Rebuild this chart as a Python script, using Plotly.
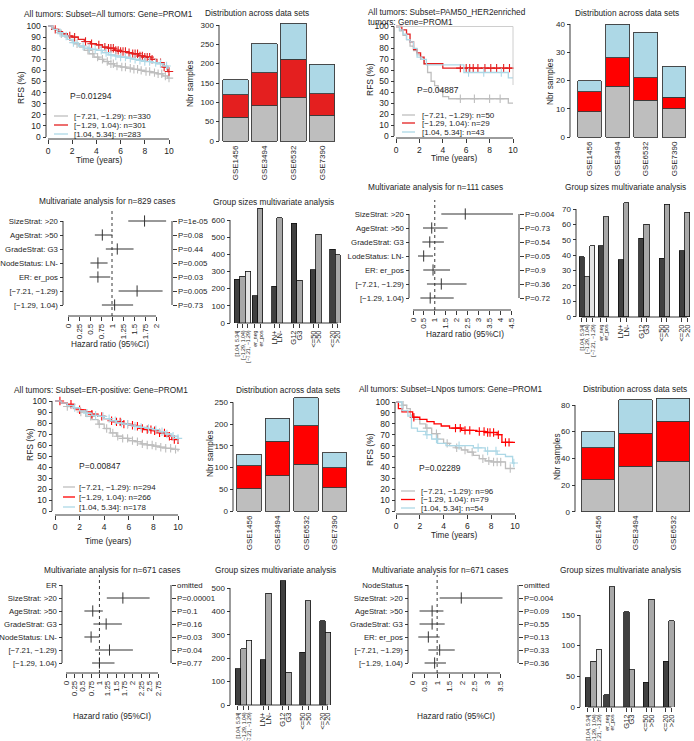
import plotly.graph_objects as go

W, H = 694, 741
FONT = "Liberation Sans, Arial, Helvetica, sans-serif"
TXT = "#1e1e1e"
GRAY, BLUE, RED, RED_TL = "#BEBEBE", "#ADD8E6", "#FF0000", "#E41F1F"
DARK, MID, LIGHT = "#404040", "#A8A8A8", "#E4E4E4"

DATASETS = ["GSE1456", "GSE3494", "GSE6532", "GSE7390"]
GROUPS = ["[−7.21, −1.29)", "[−1.29, 1.04)", "[1.04, 5.34]"]

# ---------------- A: all tumors ----------------
a_title = ["All tumors: Subset=All tumors: Gene=PROM1"]
a_p = "P=0.01294"
a_n = [330, 301, 283]
a_low_t = [0, 0.3, 0.6, 1.0, 1.4, 1.8, 2.2, 2.6, 3.0, 3.4, 3.8, 4.2, 4.6, 5.0, 5.5, 6.0, 6.5, 7.0, 7.5, 8.0, 8.5, 9.0, 9.5, 9.9, 10]
a_low_s = [100, 98, 96, 93, 90, 87, 84, 81, 78, 75, 72, 70, 68, 66, 64, 63, 62, 61, 60, 59, 58, 57, 55, 53, 53]
a_low_c = [1.1, 2.4, 3.3, 3.7, 4.1, 4.5, 4.9, 5.2, 5.4, 5.7, 6.1, 6.4, 6.8, 7.1, 7.4, 7.7, 8.1, 8.4, 8.8, 9.1, 9.4, 9.7, 10.0]
a_mid_t = [0, 0.4, 0.8, 1.2, 1.6, 2.0, 2.5, 3.0, 3.5, 4.0, 4.5, 5.0, 5.5, 6.0, 6.5, 7.0, 7.5, 8.0, 8.5, 9.0, 9.5, 9.9, 10]
a_mid_s = [100, 97, 95, 93, 91, 90, 88, 86, 84, 83, 81, 80, 78, 77, 76, 75, 73, 72, 70, 67, 63, 59, 59]
a_mid_c = [0.6, 1.8, 2.2, 3.1, 3.6, 4.2, 4.7, 5.0, 5.2, 5.4, 5.6, 5.8, 6.0, 6.2, 6.4, 6.7, 7.0, 7.2, 7.4, 7.6, 7.8, 8.0, 8.2, 8.4, 8.6, 9.3, 9.6, 10.0]
a_high_t = [0, 0.4, 0.8, 1.2, 1.6, 2.0, 2.5, 3.0, 3.5, 4.0, 4.5, 5.0, 5.5, 6.0, 6.5, 7.0, 7.5, 8.0, 8.5, 9.0, 9.5, 9.9, 10]
a_high_s = [100, 97, 94, 91, 88, 85, 82, 80, 79, 78, 76, 74, 73, 72, 71, 70, 69, 68, 67, 66, 64, 62, 62]
a_high_c = [1.0, 1.5, 2.1, 2.9, 3.4, 3.9, 4.4, 4.8, 5.2, 5.6, 6.0, 6.4, 6.8, 7.2, 7.6, 8.0, 8.4, 8.9, 9.3, 9.8]
a_ds_low = [61, 91, 112, 66]
a_ds_mid = [59, 86, 100, 56]
a_ds_high = [38, 75, 93, 77]
a_mv_title = "Multivariate analysis for n=829 cases"
a_mv_labels = ["SizeStrat: >20", "AgeStrat: >50", "GradeStrat: G3", "NodeStatus: LN-", "ER: er_pos", "[−7.21, −1.29)", "[−1.29, 1.04)"]
a_mv_hr = [1.74, 0.78, 1.12, 0.68, 0.68, 1.57, 1.06]
a_mv_lo = [1.37, 0.61, 0.86, 0.51, 0.49, 1.15, 0.77]
a_mv_hi = [2.23, 1.01, 1.49, 0.90, 0.96, 2.15, 1.48]
a_mv_p = ["P=1e-05", "P=0.08", "P=0.44", "P=0.005", "P=0.03", "P=0.005", "P=0.73"]
a_gs_labels = [["[1.04, 5.34]", "[−1.29, 1.04)", "[−7.21, −1.29)"], ["er_neg", "er_pos"], ["LN+", "LN-"], ["G12", "G3"], ["<=50", ">50"], ["<=20", ">20"]]
a_gs_values = [[255, 273, 301], [160, 669], [215, 614], [580, 249], [311, 518], [430, 399]]

# ---------------- B: PAM50 HER2-enriched ----------------
b_title = ["All tumors: Subset=PAM50_HER2enriched", "tumors: Gene=PROM1"]
b_p = "P=0.04887"
b_n = [50, 29, 43]
b_low_t = [0, 0.3, 0.6, 0.9, 1.2, 1.5, 1.8, 2.1, 2.4, 2.7, 3.0, 3.3, 3.6, 4.0, 4.5, 9.6, 10]
b_low_s = [100, 96, 92, 88, 82, 78, 74, 70, 66, 58, 50, 46, 42, 36, 34, 30, 30]
b_low_c = [5.5, 6.7, 8.0, 8.9]
b_mid_t = [0, 0.5, 0.9, 1.2, 1.5, 1.8, 2.1, 2.4, 4.0, 10]
b_mid_s = [100, 97, 93, 86, 79, 76, 72, 66, 62, 62]
b_mid_c = [5.5, 6.0, 6.3, 6.6, 7.0, 7.6, 8.1, 8.6, 9.2, 9.7]
b_high_t = [0, 0.3, 0.6, 0.9, 1.2, 1.5, 1.8, 2.2, 2.6, 5.8, 9.6, 10]
b_high_s = [100, 97, 93, 88, 86, 80, 72, 70, 65, 58, 53, 53]
b_high_c = [6.2, 7.5, 9.0]
b_ds_low = [9, 18, 13, 10]
b_ds_mid = [7, 10, 8, 4]
b_ds_high = [4, 12, 16, 11]
b_mv_title = "Multivariate analysis for n=111 cases"
b_mv_labels = ["SizeStrat: >20", "AgeStrat: >50", "GradeStrat: G3", "LodeStatus: LN-", "ER: er_pos", "[−7.21, −1.29)", "[−1.29, 1.04)"]
b_mv_hr = [2.40, 0.86, 0.77, 0.49, 0.92, 1.30, 0.79]
b_mv_lo = [1.30, 0.46, 0.43, 0.23, 0.47, 0.64, 0.34]
b_mv_hi = [4.60, 1.59, 1.42, 0.92, 1.70, 2.46, 1.87]
b_mv_p = ["P=0.004", "P=0.73", "P=0.54", "P=0.05", "P=0.9", "P=0.36", "P=0.72"]
b_gs_labels = a_gs_labels
b_gs_values = [[39, 26, 46], [46, 65], [37, 74], [51, 60], [38, 73], [43, 68]]

# ---------------- C: ER-positive ----------------
c_title = ["All tumors: Subset=ER-positive: Gene=PROM1"]
c_p = "P=0.00847"
c_n = [294, 266, 178]
c_low_t = [0, 0.5, 1, 1.5, 2, 2.5, 3, 3.5, 4, 4.5, 5, 5.5, 6, 6.5, 7, 7.5, 8, 8.5, 9, 9.5, 10]
c_low_s = [100, 98, 95, 93, 90, 86, 83, 79, 75, 71, 68, 66, 64, 63, 61, 60, 59, 58, 57, 56, 54]
c_low_c = [1.0, 2.1, 2.9, 3.6, 4.2, 4.7, 5.1, 5.5, 5.9, 6.3, 6.7, 7.1, 7.5, 7.9, 8.2, 8.6, 9.0, 9.4, 9.8]
c_mid_t = [0, 0.5, 1, 1.5, 2, 2.5, 3, 3.5, 4, 4.5, 5, 5.5, 6, 6.5, 7, 7.5, 8, 8.5, 9, 9.5, 10]
c_mid_s = [100, 98, 97, 94, 92, 90, 88, 86, 84, 82, 81, 79, 78, 77, 75, 74, 73, 71, 68, 65, 61]
c_mid_c = [0.4, 1.3, 2.0, 3.0, 3.8, 4.6, 5.0, 5.3, 5.6, 5.9, 6.3, 6.7, 7.1, 7.5, 7.8, 8.1, 8.5, 8.9, 9.3, 9.7]
c_high_t = [0, 0.5, 1, 1.5, 2, 2.5, 3, 3.5, 4, 4.5, 5, 5.5, 6, 6.5, 7, 7.5, 8, 8.5, 9, 9.5, 10]
c_high_s = [100, 98, 96, 94, 91, 89, 87, 86, 84, 82, 80, 79, 78, 77, 76, 75, 74, 72, 70, 68, 66]
c_high_c = [1.6, 2.6, 3.3, 3.9, 4.4, 4.9, 5.4, 5.9, 6.5, 7.0, 7.6, 8.2, 8.7, 9.1, 9.6, 10.0]
c_ds_low = [51, 81, 108, 54]
c_ds_mid = [53, 79, 88, 46]
c_ds_high = [26, 53, 65, 34]
c_mv_title = "Multivariate analysis for n=671 cases"
c_mv_labels = ["ER", "SizeStrat: >20", "AgeStrat: >50", "GradeStrat: G3", "NodeStatus: LN-", "[−7.21, −1.29)", "[−1.29, 1.04)"]
c_mv_hr = [None, 1.70, 0.80, 1.20, 0.75, 1.30, 1.00]
c_mv_lo = [None, 1.22, 0.55, 0.82, 0.55, 0.87, 0.78]
c_mv_hi = [None, 2.50, 1.10, 1.67, 1.00, 2.00, 1.45]
c_mv_p = ["omitted", "P=0.00001", "P=0.1", "P=0.16", "P=0.03", "P=0.04", "P=0.77"]
c_gs_labels = [["[1.04, 5.34]", "[−1.29, 1.04)", "[−7.21, −1.29)"], ["LN+", "LN-"], ["G12", "G3"], ["<=50", ">50"], ["<=20", ">20"]]
c_gs_values = [[155, 240, 276], [193, 478], [530, 141], [225, 446], [360, 311]]

# ---------------- D: LN-positive ----------------
d_title = ["All tumors: Subset=LNpos tumors: Gene=PROM1"]
d_p = "P=0.02289"
d_n = [96, 79, 54]
d_low_t = [0, 0.5, 0.9, 1.2, 1.5, 2.0, 2.5, 3.0, 3.5, 4.0, 4.5, 5.0, 5.5, 6.0, 6.5, 7.0, 7.5, 8.0, 9.2, 10]
d_low_s = [100, 97, 94, 88, 84, 80, 76, 71, 66, 62, 60, 58, 56, 54, 51, 48, 46, 45, 39, 39]
d_low_c = [0.6, 2.6, 3.4, 4.3, 5.1, 5.8, 6.4, 7.3, 7.8, 8.2, 8.5, 8.8, 9.6]
d_mid_t = [0, 0.2, 0.5, 1.4, 2.0, 2.6, 3.2, 3.8, 4.5, 5.5, 6.8, 7.5, 8.5, 8.9, 10]
d_mid_s = [100, 94, 91, 86, 84, 82, 80, 78, 76, 74, 73, 72, 70, 63, 63]
d_mid_c = [1.5, 5.0, 5.4, 5.8, 6.2, 7.0, 7.4, 7.7, 7.9, 8.2, 8.6, 9.2, 9.5]
d_high_t = [0, 0.5, 1.0, 1.3, 1.8, 2.5, 3.0, 3.5, 4.2, 6.5, 7.5, 8.5, 9.2, 9.8, 10]
d_high_s = [100, 92, 87, 76, 73, 70, 66, 62, 60, 58, 55, 52, 50, 44, 44]
d_high_c = [2.6, 3.4, 5.3, 6.9, 7.7, 8.4, 9.9]
d_ds_low = [24, 34, 38]
d_ds_mid = [24, 25, 30]
d_ds_high = [12, 25, 17]
d_mv_title = "Multivariate analysis for n=671 cases"
d_mv_labels = ["NodeStatus", "SizeStrat: >20", "AgeStrat: >50", "GradeStrat: G3", "ER: er_pos", "[−7.21, −1.29)", "[−1.29, 1.04)"]
d_mv_hr = [None, 1.96, 0.80, 0.80, 0.65, 1.10, 0.90]
d_mv_lo = [None, 1.10, 0.30, 0.30, 0.25, 0.65, 0.50]
d_mv_hi = [None, 3.60, 1.25, 1.30, 1.10, 1.70, 1.35]
d_mv_p = ["omitted", "P=0.004", "P=0.09", "P=0.55", "P=0.13", "P=0.33", "P=0.36"]
d_gs_labels = [["[1.04, 5.34]", "[−1.29, 1.04)", "[−7.21, −1.29)"], ["er_neg", "er_pos"], ["G12", "G3"], ["<=50", ">50"], ["<=20", ">20"]]
d_gs_values = [[48, 75, 93], [20, 196], [155, 61], [40, 176], [75, 141]]

# =====================================================================
fig = go.Figure()
shapes, annots, layout_axes = [], [], {}
_count = [0]


def esc(s):
    return s.replace("<", "&lt;").replace(">", "&gt;")


def lin(v0, p0, v1, p1):
    k = (v1 - v0) / (p1 - p0)
    return (lambda p: v0 + (p - p0) * k), (lambda v: p0 + (v - v0) / k)


def axis_common():
    return dict(showgrid=False, zeroline=False, showline=False, ticks="outside", ticklen=3.5,
                tickwidth=0.9, tickcolor="#222", tickfont=dict(size=8, color=TXT, family=FONT),
                fixedrange=True, automargin=False)


def hline_px(x0, x1, y, color="#222", w=0.9):
    shapes.append(dict(type="line", xref="paper", yref="paper", x0=x0 / W, x1=x1 / W,
                       y0=1 - y / H, y1=1 - y / H, line=dict(color=color, width=w)))


def vline_px(x, y0, y1, color="#222", w=0.9):
    shapes.append(dict(type="line", xref="paper", yref="paper", x0=x / W, x1=x / W,
                       y0=1 - y0 / H, y1=1 - y1 / H, line=dict(color=color, width=w)))


def text_px(x, y, s, size=8, anchor="left", angle=0, color=TXT):
    annots.append(dict(x=x / W, y=1 - y / H, xref="paper", yref="paper", text=s, showarrow=False,
                       xanchor=anchor, yanchor="middle", textangle=angle,
                       font=dict(size=size, color=color, family=FONT)))


def panel(xmap, ymap, box):
    _count[0] += 1
    n = _count[0]
    sfx = "" if n == 1 else str(n)
    fx, px = lin(*xmap)
    fy, py = lin(*ymap)
    L, T, R, B = box
    xa = axis_common()
    xa.update(domain=[L / W, R / W], range=[fx(L), fx(R)], anchor="free")
    ya = axis_common()
    ya.update(domain=[1 - B / H, 1 - T / H], range=[fy(B), fy(T)], anchor="free")
    layout_axes["xaxis" + sfx] = xa
    layout_axes["yaxis" + sfx] = ya
    return dict(n=n, x="x" + sfx, y="y" + sfx, xa=xa, ya=ya, px=px, py=py, xk="xaxis" + sfx, yk="yaxis" + sfx)


def set_xticks(p, vals, texts, pos_py, line=True, angle=None, ticks=True, size=8):
    p["xa"].update(position=1 - pos_py / H, tickmode="array", tickvals=vals, ticktext=texts)
    p["xa"]["tickfont"]["size"] = size
    if angle is not None:
        p["xa"]["tickangle"] = angle
    if not ticks:
        p["xa"]["ticks"] = ""
    if line:
        hline_px(p["px"](vals[0]), p["px"](vals[-1]), pos_py)


def set_yticks(p, vals, texts, pos_px, line=True, size=8):
    p["ya"].update(position=pos_px / W, tickmode="array", tickvals=vals, ticktext=texts)
    p["ya"]["tickfont"]["size"] = size
    if line:
        vline_px(pos_px, p["py"](vals[0]), p["py"](vals[-1]))


def step_at(ts, ss, t):
    v = ss[0]
    for ti, si in zip(ts, ss):
        if ti <= t:
            v = si
    return v


def km_panel(cfg):
    p = panel(cfg["xmap"], cfg["ymap"], cfg["box"])
    set_xticks(p, [0, 2, 4, 6, 8, 10], ["0", "2", "4", "6", "8", "10"], cfg["xpos"], size=8.5)
    set_yticks(p, list(range(0, 101, 10)), [str(v) for v in range(0, 101, 10)], cfg["ypos"], size=8.5)
    colors = [GRAY, cfg["red"], BLUE]
    for (ts, ss, cs), col in zip(cfg["curves"], colors):
        fig.add_trace(go.Scatter(x=ts, y=ss, mode="lines", line=dict(shape="hv", color=col, width=1.3),
                                 xaxis=p["x"], yaxis=p["y"], hoverinfo="skip", showlegend=False))
        fig.add_trace(go.Scatter(x=cs, y=[step_at(ts, ss, c) for c in cs], mode="markers",
                                 marker=dict(symbol="cross-thin", size=6, line=dict(color=col, width=1.1)),
                                 xaxis=p["x"], yaxis=p["y"], hoverinfo="skip", showlegend=False, cliponaxis=False))
    for i, line in enumerate(cfg["title"]):
        text_px(cfg["title_xy"][0], cfg["title_xy"][1] + i * 9.5, line, size=8.3)
    text_px(cfg["ylab_xy"][0], cfg["ylab_xy"][1], "RFS (%)", size=8.5, anchor="center", angle=-90)
    text_px(cfg["xlab_xy"][0], cfg["xlab_xy"][1], "Time (years)", size=8.3, anchor="center")
    text_px(cfg["p_xy"][0], cfg["p_xy"][1], cfg["p"], size=8.5)
    lx0, lx1, tx, ys = cfg["leg"]
    for lab, n, col, yy in zip(GROUPS, cfg["n"], colors, ys):
        hline_px(lx0, lx1, yy, color=col, w=1.3)
        text_px(tx, yy, f"{lab}: n={n}", size=8)
    return p


def dist_panel(cfg):
    p = panel(cfg["xmap"], cfg["ymap"], cfg["box"])
    k = len(cfg["low"])
    set_xticks(p, list(range(k)), DATASETS[:k], cfg["xpos"], line=False, angle=-90, ticks=False, size=8)
    set_yticks(p, cfg["yticks"], [str(v) for v in cfg["yticks"]], cfg["ypos"], size=8)
    for vals, col in zip([cfg["low"], cfg["mid"], cfg["high"]], [GRAY, cfg["red"], BLUE]):
        fig.add_trace(go.Bar(x=list(range(k)), y=vals, width=cfg["bw"], marker=dict(color=col, line=dict(color="#3a3a3a", width=0.9)),
                             xaxis=p["x"], yaxis=p["y"], hoverinfo="skip", showlegend=False))
    text_px(cfg["title_xy"][0], cfg["title_xy"][1], "Distribution across data sets", size=8.3, anchor="center")
    text_px(cfg["ylab_xy"][0], cfg["ylab_xy"][1], "Nbr samples", size=8.3, anchor="center", angle=-90)
    return p


def forest_panel(cfg):
    p = panel(cfg["xmap"], cfg["ymap"], cfg["box"])
    rows = list(range(len(cfg["labels"])))
    set_xticks(p, cfg["xticks"], [f"{v:g}" for v in cfg["xticks"]], cfg["xpos"], angle=-90, size=8)
    set_yticks(p, rows, [esc(s) for s in cfg["labels"]], cfg["ypos"], size=7.8)
    _count[0] += 1
    sfx = str(_count[0])
    ra = axis_common()
    ra.update(overlaying=p["y"], side="right", anchor="free", position=cfg["rpos"] / W,
              range=p["ya"]["range"], tickmode="array", tickvals=rows, ticktext=cfg["p"])
    ra["tickfont"]["size"] = 7.8
    layout_axes["yaxis" + sfx] = ra
    vline_px(cfg["rpos"], p["py"](rows[0]), p["py"](rows[-1]))
    fig.add_trace(go.Scatter(x=[None], y=[None], xaxis=p["x"], yaxis="y" + sfx, showlegend=False, hoverinfo="skip"))
    shapes.append(dict(type="line", xref=p["x"], yref=p["y"] + " domain", x0=1, x1=1, y0=0, y1=1,
                       line=dict(color="#222", width=0.9, dash="dot")))
    xs, ys = [], []
    for r, lo, hi in zip(rows, cfg["lo"], cfg["hi"]):
        if lo is None:
            continue
        xs += [lo, hi, None]
        ys += [r, r, None]
    fig.add_trace(go.Scatter(x=xs, y=ys, mode="lines", line=dict(color="#333", width=1),
                             xaxis=p["x"], yaxis=p["y"], hoverinfo="skip", showlegend=False))
    fig.add_trace(go.Scatter(x=cfg["hr"], y=rows, mode="markers",
                             marker=dict(symbol="line-ns", size=8, line=dict(color="#333", width=1)),
                             xaxis=p["x"], yaxis=p["y"], hoverinfo="skip", showlegend=False, cliponaxis=False))
    text_px(cfg["title_xy"][0], cfg["title_xy"][1], cfg["title"], size=8.3, anchor="center")
    text_px(cfg["xlab_xy"][0], cfg["xlab_xy"][1], "Hazard ratio (95%CI)", size=8.3, anchor="center")
    return p


def groups_panel(cfg):
    p = panel(cfg["xmap"], cfg["ymap"], cfg["box"])
    centers, texts = [], []
    pos = 0.0
    tr = {"dark": ([], []), "mid": ([], []), "light": ([], []), "gray": ([], [])}
    for gi, (labs, vals) in enumerate(zip(cfg["labels"], cfg["values"])):
        if gi > 0:
            pos += cfg["gaps"][gi - 1]
        kinds = ["dark", "mid", "light"] if len(vals) == 3 else ["dark", "gray"]
        for lab, v, kd in zip(labs, vals, kinds):
            c = pos + 0.5
            centers.append(c)
            small = lab.startswith("[") or lab.startswith("er_")
            t = esc(lab)
            texts.append(f"<span style='font-size:5.2px'>{t}</span>" if small else t)
            tr[kd][0].append(c)
            tr[kd][1].append(v)
            pos += 1
    cols = {"dark": DARK, "mid": MID, "light": LIGHT, "gray": MID}
    for kd, (xs, vs) in tr.items():
        if xs:
            fig.add_trace(go.Bar(x=xs, y=vs, width=1, marker=dict(color=cols[kd], line=dict(color="#111", width=0.8)),
                                 xaxis=p["x"], yaxis=p["y"], hoverinfo="skip", showlegend=False))
    set_xticks(p, centers, texts, cfg["xpos"], angle=-90, size=7.5)
    set_yticks(p, cfg["yticks"], [str(v) for v in cfg["yticks"]], cfg["ypos"], size=8)
    text_px(cfg["title_xy"][0], cfg["title_xy"][1], "Group sizes multivariate analysis", size=8.3, anchor="center")
    return p


# ---------------- Kaplan-Meier panels ----------------
km_panel(dict(xmap=(0, 48, 10, 169), ymap=(0, 137, 100, 26), box=(46, 20, 173, 139), xpos=139, ypos=46,
              curves=[(a_low_t, a_low_s, a_low_c), (a_mid_t, a_mid_s, a_mid_c), (a_high_t, a_high_s, a_high_c)],
              red=RED_TL, title=a_title, title_xy=(22, 14), ylab_xy=(21, 88), xlab_xy=(99, 160), p=a_p, p_xy=(68, 96),
              n=a_n, leg=(54, 68, 72, [116, 125, 134])))
km_panel(dict(xmap=(0, 396, 10, 513), ymap=(0, 136, 100, 26.5), box=(394, 20, 516, 138), xpos=138, ypos=394,
              curves=[(b_low_t, b_low_s, b_low_c), (b_mid_t, b_mid_s, b_mid_c), (b_high_t, b_high_s, b_high_c)],
              red=RED_TL, title=b_title, title_xy=(366, 12.5), ylab_xy=(370, 80), xlab_xy=(454, 158), p=b_p, p_xy=(415, 90),
              n=b_n, leg=(402, 415, 420, [115, 123, 132])))
hline_px(396, 513, 26.5, color="#C8C8C8", w=0.9)
vline_px(513, 26.5, 85, color="#C8C8C8", w=0.9)
km_panel(dict(xmap=(0, 55, 10, 178), ymap=(0, 511, 100, 401), box=(52, 395, 181, 515), xpos=515, ypos=52,
              curves=[(c_low_t, c_low_s, c_low_c), (c_mid_t, c_mid_s, c_mid_c), (c_high_t, c_high_s, c_high_c)],
              red=RED, title=c_title, title_xy=(12, 390), ylab_xy=(30, 445), xlab_xy=(108, 541), p=c_p, p_xy=(77, 466),
              n=c_n, leg=(63, 75, 77, [487, 497, 507])))
km_panel(dict(xmap=(0, 396, 10, 515), ymap=(0, 511, 100, 402), box=(395, 396, 518, 514), xpos=514, ypos=395,
              curves=[(d_low_t, d_low_s, d_low_c), (d_mid_t, d_mid_s, d_mid_c), (d_high_t, d_high_s, d_high_c)],
              red=RED, title=d_title, title_xy=(357, 389), ylab_xy=(370, 450), xlab_xy=(454, 535), p=d_p, p_xy=(417, 468),
              n=d_n, leg=(401, 415, 419, [491, 499.5, 508])))

# ---------------- Distribution panels ----------------
dist_panel(dict(xmap=(0, 235.5, 3, 322), ymap=(0, 141, 300, 25), box=(220, 18, 340, 142), xpos=143, ypos=219,
                low=a_ds_low, mid=a_ds_mid, high=a_ds_high, red=RED_TL, bw=0.9, yticks=[0, 50, 100, 150, 200, 250, 300],
                title_xy=(257, 13), ylab_xy=(190, 83)))
dist_panel(dict(xmap=(0, 589.5, 3, 674), ymap=(0, 137, 40, 24), box=(572, 18, 692, 138), xpos=139, ypos=570,
                low=b_ds_low, mid=b_ds_mid, high=b_ds_high, red=RED, bw=0.85, yticks=[0, 10, 20, 30, 40],
                title_xy=(627, 13), ylab_xy=(550, 82)))
dist_panel(dict(xmap=(0, 249, 3, 334.5), ymap=(0, 511, 250, 402.3), box=(234, 385, 350, 512), xpos=513, ypos=233,
                low=c_ds_low, mid=c_ds_mid, high=c_ds_high, red=RED, bw=0.85, yticks=[0, 50, 100, 150, 200, 250],
                title_xy=(288, 390), ylab_xy=(210, 453)))
dist_panel(dict(xmap=(0, 598, 2, 673), ymap=(0, 511.7, 80, 405), box=(576, 385, 694, 513), xpos=513, ypos=575,
                low=d_ds_low, mid=d_ds_mid, high=d_ds_high, red=RED, bw=0.9, yticks=[0, 20, 40, 60, 80],
                title_xy=(635, 389), ylab_xy=(557, 457)))

# ---------------- Forest panels ----------------
forest_panel(dict(xmap=(0, 68, 2, 156), ymap=(0, 221, 6, 305), box=(64, 209, 172, 316), xpos=316, ypos=63, rpos=172,
                  labels=a_mv_labels, hr=a_mv_hr, lo=a_mv_lo, hi=a_mv_hi, p=a_mv_p,
                  xticks=[0, 0.25, 0.5, 0.75, 1, 1.25, 1.5, 1.75, 2], title=a_mv_title, title_xy=(107, 201), xlab_xy=(110, 344)))
forest_panel(dict(xmap=(0, 413, 4.5, 511), ymap=(0, 214, 6, 298), box=(410, 200, 513, 310), xpos=310, ypos=409, rpos=519,
                  labels=b_mv_labels, hr=b_mv_hr, lo=b_mv_lo, hi=b_mv_hi, p=b_mv_p,
                  xticks=[0, 0.5, 1, 1.5, 2, 2.5, 3, 3.5, 4, 4.5], title=b_mv_title, title_xy=(435, 187), xlab_xy=(465, 334)))
forest_panel(dict(xmap=(0, 66, 2.75, 158), ymap=(0, 585, 6, 663), box=(63, 575, 170, 673), xpos=673, ypos=62, rpos=171,
                  labels=c_mv_labels, hr=c_mv_hr, lo=c_mv_lo, hi=c_mv_hi, p=c_mv_p,
                  xticks=[0, 0.25, 0.5, 0.75, 1, 1.25, 1.5, 1.75, 2, 2.25, 2.5, 2.75], title=c_mv_title, title_xy=(112, 570), xlab_xy=(112, 716)))
forest_panel(dict(xmap=(0, 412, 3.5, 500), ymap=(0, 585, 6, 663), box=(409, 575, 517, 673), xpos=673, ypos=408, rpos=518,
                  labels=d_mv_labels, hr=d_mv_hr, lo=d_mv_lo, hi=d_mv_hi, p=d_mv_p,
                  xticks=[0, 0.5, 1, 1.5, 2, 2.5, 3, 3.5], title=d_mv_title, title_xy=(440, 570), xlab_xy=(456, 716)))

# ---------------- Group size panels ----------------
groups_panel(dict(xmap=(0, 234.3, 1, 239.7), ymap=(0, 323, 600, 220), box=(231, 205, 342, 323), xpos=323, ypos=230,
                  labels=a_gs_labels, values=a_gs_values, gaps=[0.3, 1.6, 1.65, 1.55, 1.55],
                  yticks=[0, 100, 200, 300, 400, 500, 600], title_xy=(273, 202)))
groups_panel(dict(xmap=(0, 579, 1, 584.27), ymap=(0, 316.7, 70, 209), box=(577, 200, 694, 317), xpos=317, ypos=576,
                  labels=b_gs_labels, values=b_gs_values, gaps=[0.63, 1.83, 1.83, 1.9, 1.83],
                  yticks=[0, 10, 20, 30, 40, 50, 60, 70], title_xy=(625, 187)))
groups_panel(dict(xmap=(0, 235, 1, 240.5), ymap=(0, 705, 500, 588), box=(231, 575, 345, 705), xpos=705, ypos=230,
                  labels=c_gs_labels, values=c_gs_values, gaps=[1.6, 1.6, 1.6, 1.6],
                  yticks=[0, 100, 200, 300, 400, 500], title_xy=(275, 570)))
groups_panel(dict(xmap=(0, 585, 1, 590.5), ymap=(0, 707, 150, 615), box=(581, 575, 694, 707), xpos=707, ypos=580,
                  labels=d_gs_labels, values=d_gs_values, gaps=[0.4, 1.6, 1.6, 1.6],
                  yticks=[0, 50, 100, 150], title_xy=(620, 570)))

fig.update_layout(
    width=W, height=H, autosize=False, template="none",
    margin=dict(l=0, r=0, t=0, b=0, pad=0),
    paper_bgcolor="white", plot_bgcolor="rgba(0,0,0,0)",
    barmode="stack", bargap=0, showlegend=False,
    font=dict(family=FONT, size=8, color=TXT),
    shapes=shapes, annotations=annots, **layout_axes,
)
fig.write_html("out.html", config={"displayModeBar": False, "staticPlot": True},
               post_script="document.body.style.margin='0';document.body.style.overflow='hidden';")
